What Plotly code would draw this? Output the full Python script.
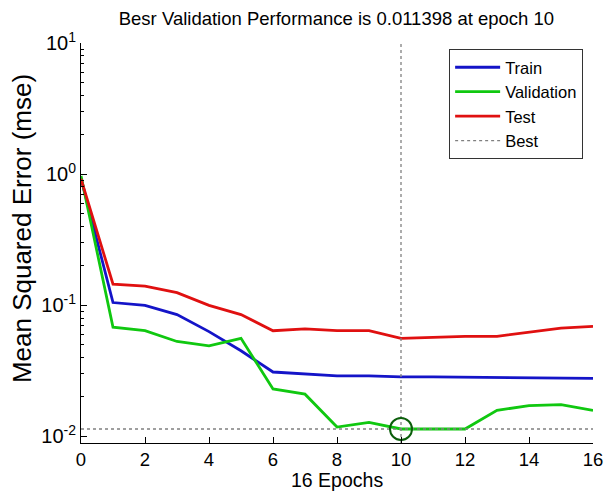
import plotly.graph_objects as go

# Training record (mean squared error per epoch)
epochs = list(range(17))
train = [0.93, 0.105, 0.100, 0.085, 0.063, 0.045, 0.031, 0.030, 0.029, 0.029,
         0.0285, 0.0285, 0.0283, 0.028, 0.0278, 0.0277, 0.0277]
validation = [0.97, 0.068, 0.064, 0.053, 0.049, 0.056, 0.023, 0.021, 0.0118, 0.0128,
              0.011398, 0.0114, 0.0114, 0.0158, 0.0172, 0.0175, 0.0158]
test = [0.92, 0.145, 0.140, 0.125, 0.100, 0.085, 0.064, 0.066, 0.064, 0.064,
        0.056, 0.057, 0.058, 0.058, 0.062, 0.067, 0.069]

best_epoch = 10
best_value = 0.011398
y_lo, y_hi = 10 ** -2.05, 10.0

x_ticks = [0, 2, 4, 6, 8, 10, 12, 14, 16]
y_ticks = [0.01, 0.1, 1, 10]
y_tick_text = ["10<sup>-2</sup>", "10<sup>-1</sup>", "10<sup>0</sup>", "10<sup>1</sup>"]

font = "Liberation Sans, Arial, sans-serif"

fig = go.Figure()
fig.add_trace(go.Scatter(x=epochs, y=train, mode="lines", name="Train",
                         line=dict(color="#1414c8", width=2.8)))
fig.add_trace(go.Scatter(x=epochs, y=validation, mode="lines", name="Validation",
                         line=dict(color="#10c810", width=2.8)))
fig.add_trace(go.Scatter(x=epochs, y=test, mode="lines", name="Test",
                         line=dict(color="#e01010", width=2.8)))
# best-epoch guide lines
fig.add_trace(go.Scatter(x=[epochs[0], epochs[-1]], y=[best_value, best_value], mode="lines",
                         name="Best", line=dict(color="#808080", width=1.3, dash="dot")))
fig.add_trace(go.Scatter(x=[best_epoch, best_epoch], y=[y_lo, y_hi], mode="lines",
                         showlegend=False, line=dict(color="#808080", width=1.3, dash="dot")))
fig.add_trace(go.Scatter(x=[best_epoch], y=[best_value], mode="markers", showlegend=False,
                         marker=dict(symbol="circle-open", size=22, color="#0b5e0b",
                                     line=dict(width=2, color="#0b5e0b"))))

fig.update_layout(
    width=604, height=491,
    margin=dict(l=81, r=11, t=43, b=48),
    paper_bgcolor="white", plot_bgcolor="white",
    font=dict(family=font, size=20, color="black"),
    title=dict(text="Besr Validation Performance is 0.011398 at epoch 10",
               x=0.557, xanchor="center", y=0.963, yanchor="middle",
               font=dict(family=font, size=18.5, color="black")),
    legend=dict(x=0.719, y=0.985, xanchor="left", yanchor="top",
                bgcolor="white", bordercolor="#333333", borderwidth=1,
                font=dict(family=font, size=16.5, color="black"),
                tracegroupgap=0, itemwidth=45),
    showlegend=True,
    annotations=[
        dict(text="16 Epochs", xref="paper", yref="paper", x=0.5, y=-0.0915,
             xanchor="center", yanchor="middle", showarrow=False, borderpad=0,
             font=dict(family=font, size=19.5, color="black")),
        dict(text="Mean Squared Error (mse)", xref="paper", yref="paper", x=-0.115, y=0.535,
             xanchor="center", yanchor="middle", textangle=-90, showarrow=False,
             font=dict(family=font, size=26, color="black")),
    ],
)
fig.update_xaxes(range=[0, 16], tickvals=x_ticks, ticks="inside", ticklen=6,
                 tickcolor="black", showline=True, linecolor="black", linewidth=1,
                 showgrid=False, zeroline=False, automargin=False,
                 ticklabeloverflow="allow", tickfont=dict(size=18.5))
fig.update_yaxes(type="log", range=[-2.05, 1], tickvals=y_ticks, ticktext=y_tick_text,
                 ticks="inside", ticklen=6, tickcolor="black", showline=True,
                 linecolor="black", linewidth=1, showgrid=False, zeroline=False,
                 automargin=False, ticklabeloverflow="allow",
                 minor=dict(ticks="inside", ticklen=3, tickcolor="black",
                            tickvals=[m * 10 ** e for e in (-2, -1, 0) for m in range(2, 10)]),
                 tickfont=dict(size=20))

fig.write_html("out.html")
